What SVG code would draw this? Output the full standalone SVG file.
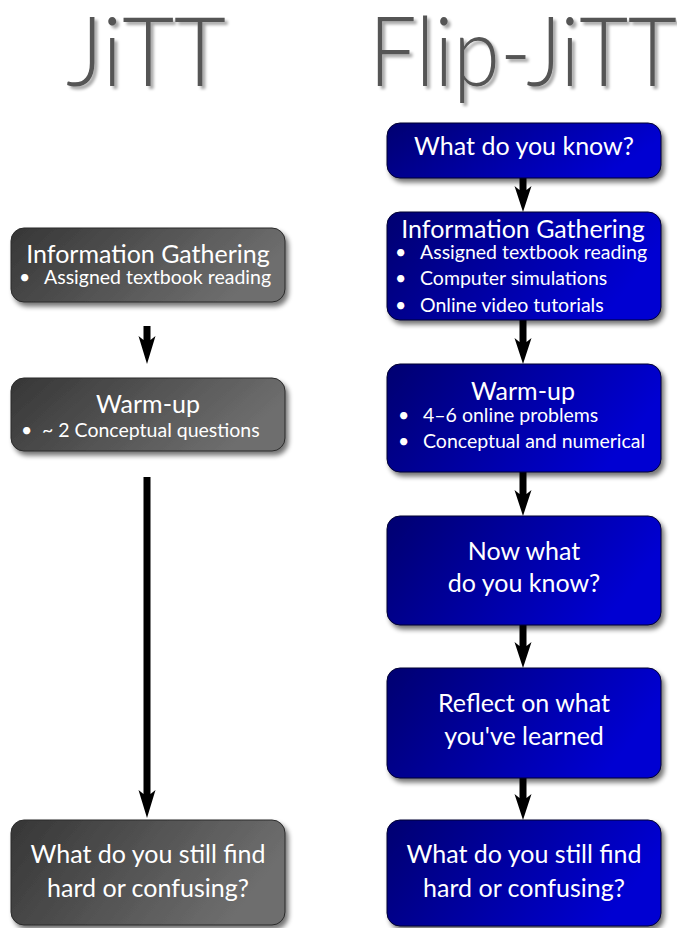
<svg xmlns="http://www.w3.org/2000/svg" width="677" height="928" viewBox="0 0 677 928">
<style>
.title{font-family:Lato,"Open Sans","Liberation Sans",sans-serif;font-weight:300;font-size:96px;fill:#555555;filter:url(#tshadow)}
.gray{fill:url(#gGray);stroke:#2a2a2a;stroke-width:1;filter:url(#shadow)}
.blue{fill:url(#gBlue);stroke:#000033;stroke-width:1;filter:url(#shadow)}
.h{font-family:Lato,"Open Sans","Liberation Sans",sans-serif;font-size:25px;fill:#ffffff;text-anchor:middle}
.b{font-family:Lato,"Open Sans","Liberation Sans",sans-serif;font-size:19.5px;fill:#ffffff}
.q{font-family:Lato,"Open Sans","Liberation Sans",sans-serif;font-size:25px;fill:#ffffff;text-anchor:middle}
.arrow{fill:#000000}
</style>
<defs>
<linearGradient id="gGray" x1="0" y1="0" x2="1" y2="0.3">
<stop offset="0" stop-color="#363636"/>
<stop offset="1" stop-color="#6e6e6e"/>
</linearGradient>
<linearGradient id="gBlue" x1="0" y1="0" x2="1" y2="0.3">
<stop offset="0" stop-color="#000070"/>
<stop offset="1" stop-color="#0000d2"/>
</linearGradient>
<filter id="shadow" x="-10%" y="-10%" width="125%" height="130%">
<feGaussianBlur in="SourceAlpha" stdDeviation="2.5"/>
<feOffset dx="3" dy="4" result="o"/>
<feComponentTransfer><feFuncA type="linear" slope="0.55"/></feComponentTransfer>
<feMerge><feMergeNode/><feMergeNode in="SourceGraphic"/></feMerge>
</filter>
<filter id="tshadow" x="-10%" y="-10%" width="130%" height="130%">
<feGaussianBlur in="SourceAlpha" stdDeviation="1.5"/>
<feOffset dx="3" dy="3" result="o"/>
<feComponentTransfer><feFuncA type="linear" slope="0.35"/></feComponentTransfer>
<feMerge><feMergeNode/><feMergeNode in="SourceGraphic"/></feMerge>
</filter>
</defs>
<rect width="677" height="928" fill="#ffffff"/>

<g id="titles">
<text class="title" x="66" y="86" textLength="160" lengthAdjust="spacingAndGlyphs">JiTT</text>
<text class="title" x="369" y="86" textLength="308" lengthAdjust="spacingAndGlyphs">Flip-JiTT</text>
</g>

<g id="connectors">
<path class="arrow" d="M143.5 326H150.5V340L155.5 336L147 364L138.5 336L143.5 340Z"/>
<path class="arrow" d="M143.5 477H150.5V794L155.5 790L147 818L138.5 790L143.5 794Z"/>
<path class="arrow" d="M519.5 176H526.5V190L531.5 186L523 212L514.5 186L519.5 190Z"/>
<path class="arrow" d="M519.5 319H526.5V342L531.5 338L523 364L514.5 338L519.5 342Z"/>
<path class="arrow" d="M519.5 471H526.5V494L531.5 490L523 516L514.5 490L519.5 494Z"/>
<path class="arrow" d="M519.5 624H526.5V646L531.5 642L523 668L514.5 642L519.5 646Z"/>
<path class="arrow" d="M519.5 777H526.5V798L531.5 794L523 820L514.5 794L519.5 798Z"/>
</g>

<g id="jitt-info">
<rect class="gray" x="11" y="228" width="274" height="74" rx="13"/>
<text class="h" x="148" y="263">Information Gathering</text>
<text class="b" x="19" y="284">•</text>
<text class="b" x="44" y="284">Assigned textbook reading</text>
</g>
<g id="jitt-warmup">
<rect class="gray" x="11" y="378" width="274" height="73" rx="13"/>
<text class="h" x="148" y="413">Warm-up</text>
<text class="b" x="21" y="437">•</text>
<text class="b" x="42" y="437">~ 2 Conceptual questions</text>
</g>
<g id="jitt-confusing">
<rect class="gray" x="11" y="820" width="274" height="105" rx="13"/>
<text class="q" x="148" y="863">What do you still find</text>
<text class="q" x="148" y="897">hard or confusing?</text>
</g>

<g id="flip-know">
<rect class="blue" x="387" y="123" width="274" height="55" rx="13"/>
<text class="q" x="524" y="155">What do you know?</text>
</g>
<g id="flip-info">
<rect class="blue" x="387" y="212" width="274" height="108" rx="13"/>
<text class="h" x="523" y="238">Information Gathering</text>
<text class="b" x="395" y="259">•</text>
<text class="b" x="420" y="259">Assigned textbook reading</text>
<text class="b" x="395" y="285">•</text>
<text class="b" x="420" y="285">Computer simulations</text>
<text class="b" x="395" y="312">•</text>
<text class="b" x="420" y="312">Online video tutorials</text>
</g>
<g id="flip-warmup">
<rect class="blue" x="387" y="364" width="274" height="108" rx="13"/>
<text class="h" x="523" y="400">Warm-up</text>
<text class="b" x="398" y="422">•</text>
<text class="b" x="423" y="422">4–6 online problems</text>
<text class="b" x="398" y="448">•</text>
<text class="b" x="423" y="448">Conceptual and numerical</text>
</g>
<g id="flip-now">
<rect class="blue" x="387" y="516" width="274" height="109" rx="13"/>
<text class="q" x="524" y="560">Now what</text>
<text class="q" x="524" y="592">do you know?</text>
</g>
<g id="flip-reflect">
<rect class="blue" x="387" y="668" width="274" height="110" rx="13"/>
<text class="q" x="524" y="712">Reflect on what</text>
<text class="q" x="524" y="745">you've learned</text>
</g>
<g id="flip-confusing">
<rect class="blue" x="387" y="820" width="274" height="106" rx="13"/>
<text class="q" x="524" y="863">What do you still find</text>
<text class="q" x="524" y="897">hard or confusing?</text>
</g>
</svg>
